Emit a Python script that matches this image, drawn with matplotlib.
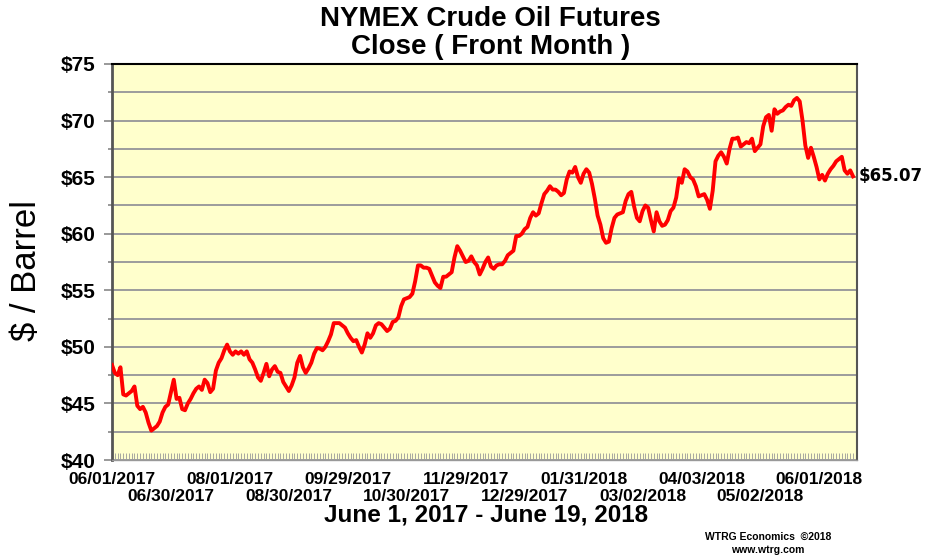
import numpy as np
import matplotlib
matplotlib.use("Agg")
import matplotlib.pyplot as plt
from matplotlib.ticker import MultipleLocator

plt.rcParams['font.family'] = ['Liberation Sans', 'DejaVu Sans']

# daily front-month close, 06/01/2017 .. 06/19/2018 (trading days)
prices = [
    48.4, 47.7, 47.5, 48.2, 45.8, 45.7, 45.9, 46.1, 46.5, 44.8,
    44.5, 44.7, 44.2, 43.3, 42.6, 42.8, 43.0, 43.4, 44.2, 44.7,
    44.9, 46.0, 47.1, 45.4, 45.5, 44.5, 44.4, 45.0, 45.4, 45.9,
    46.3, 46.5, 46.2, 47.1, 46.8, 46.0, 46.3, 47.9, 48.6, 49.0,
    49.7, 50.2, 49.6, 49.3, 49.6, 49.4, 49.6, 49.3, 49.6, 48.9,
    48.6, 48.0, 47.3, 47.0, 47.7, 48.5, 47.4, 48.0, 48.3, 47.8,
    47.7, 46.9, 46.5, 46.1, 46.6, 47.3, 48.6, 49.2, 48.2, 47.7,
    48.1, 48.6, 49.4, 49.9, 49.85, 49.7, 50.0, 50.5, 51.1, 52.1,
    52.1, 52.1, 51.9, 51.7, 51.2, 50.8, 50.5, 50.6, 50.0, 49.5,
    50.2, 51.2, 50.8, 51.2, 51.9, 52.1, 52.0, 51.7, 51.4, 51.6,
    52.2, 52.3, 52.6, 53.6, 54.2, 54.3, 54.4, 54.7, 55.8, 57.2,
    57.2, 57.0, 57.0, 56.9, 56.3, 55.7, 55.4, 55.2, 56.2, 56.2,
    56.4,
    56.6, 57.9, 58.9, 58.5, 58.0, 57.5, 57.6, 58.0, 57.5, 57.2,
    56.4, 56.9, 57.5, 57.9, 57.1, 56.9, 57.2, 57.3, 57.3, 57.6,
    58.1, 58.3, 58.5, 59.8, 59.8, 60.0, 60.4, 60.6, 61.4, 61.9,
    61.6, 61.8, 62.7, 63.5, 63.8, 64.2, 63.9, 63.9, 63.7, 63.4,
    63.6, 64.8, 65.5, 65.4, 65.9, 65.0, 64.5, 65.3, 65.7, 65.4,
    64.4, 63.1, 61.6, 60.8, 59.6, 59.2, 59.3, 60.5, 61.4, 61.7,
    61.8, 61.9, 62.9, 63.5, 63.7, 62.4, 61.4, 61.1, 62.0, 62.5,
    62.3, 61.2, 60.2, 61.9, 61.1, 60.7, 60.8, 61.2, 62.0, 62.3,
    63.2, 64.9, 64.5, 65.7, 65.5, 65.0, 64.8, 64.2, 63.3, 63.4,
    63.5, 63.0, 62.2, 63.8, 66.4, 66.9, 67.2, 66.8, 66.2, 67.5,
    68.4, 68.4, 68.5, 67.7, 67.9, 68.1, 68.0, 68.4, 67.3, 67.6,
    67.9, 69.5, 70.3, 70.5, 69.1, 71.0, 70.6, 70.8, 70.9, 71.2,
    71.4, 71.3, 71.8, 72.0, 71.7, 70.0, 67.8, 66.7, 67.6, 66.8,
    65.9, 64.8, 65.2, 64.7, 65.3, 65.7, 66.0, 66.4, 66.6, 66.8,
    65.6, 65.3, 65.6, 65.07,
]
date_labels = ['06/01/2017', '06/30/2017', '08/01/2017', '08/30/2017',
               '09/29/2017', '10/30/2017', '11/29/2017', '12/29/2017',
               '01/31/2018', '03/02/2018', '04/03/2018', '05/02/2018',
               '06/01/2018']
label_step = 21  # trading days between labels
last_label = '$65.07'

x = np.arange(len(prices))

fig = plt.figure(figsize=(9.32, 5.57), dpi=100)
ax = fig.add_axes([0.1202, 0.1741, 0.7993, 0.7110])
ax.set_facecolor('#FFFFCC')

ax.plot(x, prices, color='#FF0000', lw=2.8, solid_joinstyle='round', zorder=3)

ax.set_xlim(0, len(prices) + 0.4)
ax.set_ylim(40, 75)

# y axis
ax.yaxis.set_minor_locator(MultipleLocator(2.5))
ax.set_yticks(np.arange(40, 80, 5))
ax.set_yticklabels(['$%d' % v for v in range(40, 80, 5)], fontsize=15, fontweight='bold')
ax.tick_params(axis='y', which='major', direction='out', length=6, width=1.2, color='#888888', pad=6)
ax.tick_params(axis='y', which='minor', direction='out', length=3, width=1.2, color='#888888')
ax.grid(axis='y', which='both', color='#9C9C9C', lw=1.4, zorder=1)

# x axis: a small tick every trading day, labels in two rows
ax.set_xticks(x, minor=True)
ax.set_xticks([])
ax.tick_params(axis='x', which='minor', direction='in', length=5, width=0.6, color='#999999')
for k, lab in enumerate(date_labels):
    off = -14 if k % 2 == 0 else -26
    ax.annotate(lab, xy=(k * label_step, 0), xycoords=('data', 'axes fraction'),
                xytext=(0, off), textcoords='offset points', ha='center', va='center',
                fontsize=12.5, fontweight='bold')

for side, col, w in [('left', '#555555', 2.0), ('top', '#000000', 1.5),
                     ('right', '#555555', 1.5), ('bottom', '#999999', 1.0)]:
    ax.spines[side].set_color(col)
    ax.spines[side].set_linewidth(w)

ax.annotate(last_label, xy=(1, prices[-1]), xycoords=('axes fraction', 'data'),
            xytext=(1, 0), textcoords='offset points', va='center', ha='left',
            fontsize=12, fontweight='bold', family='DejaVu Sans')

fig.text(0.526, 0.966, 'NYMEX Crude Oil Futures', ha='center', va='center',
         fontsize=20, fontweight='bold')
fig.text(0.526, 0.916, 'Close ( Front Month )', ha='center', va='center',
         fontsize=20, fontweight='bold')
fig.text(0.028, 0.515, '$ / Barrel', rotation=90, ha='center', va='center', fontsize=25)
fig.text(0.522, 0.076, 'June 1, 2017 - June 19, 2018', ha='center', va='center',
         fontsize=17.5, fontweight='bold')
fig.text(0.824, 0.036, 'WTRG Economics  \u00a92018', ha='center', va='center',
         fontsize=7.5, fontweight='bold')
fig.text(0.824, 0.012, 'www.wtrg.com', ha='center', va='center',
         fontsize=7.5, fontweight='bold')

fig.savefig('out.png', dpi=100)
